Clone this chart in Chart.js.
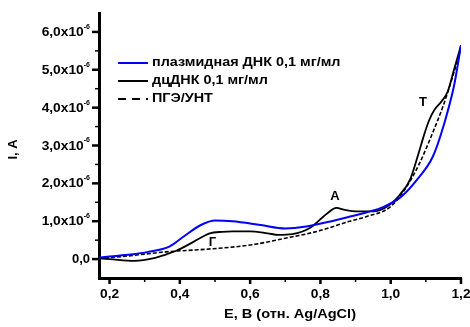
<!DOCTYPE html>
<html><head><meta charset="utf-8">
<script src="https://cdn.jsdelivr.net/npm/chart.js@4/dist/chart.umd.min.js"></script>
<style>html,body{margin:0;padding:0;background:#fff}</style>
</head><body>
<canvas id="c" width="470" height="327"></canvas>
<script>
// Values: current in units of 1e-6 A, potential in V
const seriesLabels = ['плазмидная ДНК 0,1 мг/мл', 'дцДНК 0,1 мг/мл', 'ПГЭ/УНТ'];
const plasmidE = [0.17, 0.2, 0.26, 0.31, 0.37, 0.41, 0.46, 0.5, 0.55, 0.63, 0.7, 0.76, 0.84, 0.88, 0.93, 0.98, 1.03, 1.075, 1.12, 1.15, 1.18, 1.2];
const plasmidI = [0.04, 0.07, 0.12, 0.19, 0.33, 0.59, 0.90, 1.02, 1.00, 0.90, 0.81, 0.86, 1.02, 1.11, 1.23, 1.38, 1.65, 2.10, 2.71, 3.51, 4.57, 5.64];
const dsE = [0.17, 0.2, 0.27, 0.33, 0.36, 0.39, 0.44, 0.485, 0.52, 0.55, 0.6, 0.65, 0.68, 0.72, 0.77, 0.82, 0.845, 0.87, 0.9, 0.95, 0.99, 1.026, 1.055, 1.077, 1.097, 1.11, 1.125, 1.145, 1.162, 1.18, 1.2];
const dsI = [0.02, 0.0, -0.05, 0.03, 0.12, 0.22, 0.46, 0.68, 0.72, 0.73, 0.73, 0.68, 0.64, 0.66, 0.82, 1.21, 1.35, 1.30, 1.26, 1.26, 1.39, 1.70, 2.10, 2.72, 3.34, 3.68, 3.95, 4.17, 4.42, 5.00, 5.65];
const bareE = [0.17, 0.25, 0.36, 0.49, 0.6, 0.7, 0.79, 0.88, 0.93, 1.0, 1.046, 1.083, 1.12, 1.149, 1.177, 1.2];
const bareI = [0.02, 0.08, 0.19, 0.27, 0.37, 0.55, 0.73, 0.99, 1.12, 1.39, 1.92, 2.55, 3.35, 4.04, 4.84, 5.55];
const xMajorTicks = [0.2, 0.4, 0.6, 0.8, 1.0, 1.2];
const xMinorTicks = [0.3, 0.5, 0.7, 0.9, 1.1];
const yMajorTicks = [0, 1, 2, 3, 4, 5, 6];
const yMinorTicks = [0.5, 1.5, 2.5, 3.5, 4.5, 5.5];
const yExponent = '-6';
const xTitle = 'E, B (отн. Ag/AgCl)';
const yTitle = 'I, A';
const peakLabels = ['A', 'T', 'Г'];
const peakE = [0.841, 1.092, 0.493];
const peakI = [1.66, 4.15, 0.43];

const pts = (xs, ys) => xs.map((x, i) => ({x, y: ys[i]}));
const FONT = '"Liberation Sans", Arial, sans-serif';

function stretchedText(ctx, text, x, y, sx, align) {
  const w = ctx.measureText(text).width * sx;
  let left = x;
  if (align === 'center') left = x - w / 2;
  else if (align === 'right') left = x - w;
  ctx.save();
  ctx.translate(left, y);
  ctx.scale(sx, 1);
  ctx.textAlign = 'left';
  ctx.fillText(text, 0, 0);
  ctx.restore();
}

const drawPlugin = {
  id: 'custom',
  afterDraw(chart) {
    const ctx = chart.ctx, xs = chart.scales.x, ys = chart.scales.y;
    const ca = chart.chartArea;
    const ax = ca.left, ay = ca.bottom;
    ctx.save();
    ctx.strokeStyle = '#000'; ctx.fillStyle = '#000';
    // x ticks
    xMajorTicks.forEach(v => { const p = xs.getPixelForValue(v); ctx.lineWidth = 2.5; ctx.beginPath(); ctx.moveTo(p, ay); ctx.lineTo(p, ay + 6); ctx.stroke(); });
    xMinorTicks.forEach(v => { const p = xs.getPixelForValue(v); ctx.lineWidth = 1.5; ctx.beginPath(); ctx.moveTo(p, ay); ctx.lineTo(p, ay + 4); ctx.stroke(); });
    // y ticks
    yMajorTicks.forEach(v => { const p = ys.getPixelForValue(v); ctx.lineWidth = 2.5; ctx.beginPath(); ctx.moveTo(ax, p); ctx.lineTo(ax - 7, p); ctx.stroke(); });
    yMinorTicks.forEach(v => { const p = ys.getPixelForValue(v); ctx.lineWidth = 1.5; ctx.beginPath(); ctx.moveTo(ax, p); ctx.lineTo(ax - 4, p); ctx.stroke(); });
    // y labels with superscript
    ctx.textBaseline = 'middle';
    yMajorTicks.forEach(v => {
      const p = ys.getPixelForValue(v);
      const main = v.toFixed(1).replace('.', ',') + (v === 0 ? '' : 'x10');
      const right = ax - 9;
      if (v === 0) {
        ctx.font = 'bold 13px ' + FONT; ctx.textAlign = 'right';
        ctx.fillText(main, right, p + 0.5);
      } else {
        ctx.font = 'bold 7px ' + FONT; ctx.textAlign = 'right';
        const sw = ctx.measureText(yExponent).width;
        ctx.fillText(yExponent, right, p - 5);
        ctx.font = 'bold 13px ' + FONT;
        stretchedText(ctx, main, right - sw, p + 0.5, 1.06, 'right');
      }
    });
    // x labels
    ctx.font = 'bold 13px ' + FONT; ctx.textBaseline = 'middle';
    xMajorTicks.forEach(v => {
      stretchedText(ctx, v.toFixed(1).replace('.', ','), xs.getPixelForValue(v), ay + 16, 1.06, 'center');
    });
    // axis titles
    ctx.font = 'bold 13px ' + FONT;
    stretchedText(ctx, xTitle, (ca.left + ca.right) / 2 + 10, ay + 36, 1.12, 'center');
    ctx.save();
    ctx.translate(13.5, (ca.top + ca.bottom) / 2 + 4);
    ctx.rotate(-Math.PI / 2);
    ctx.textAlign = 'center';
    ctx.fillText(yTitle, 0, 0);
    ctx.restore();
    // peak labels
    ctx.font = 'bold 13px ' + FONT; ctx.textAlign = 'center'; ctx.textBaseline = 'middle';
    peakLabels.forEach((t, i) => ctx.fillText(t, xs.getPixelForValue(peakE[i]), ys.getPixelForValue(peakI[i])));
    // legend
    const lx = 118, ly = 63, step = 18;
    chart.data.datasets.forEach((ds, i) => {
      const y = ly + i * step;
      ctx.strokeStyle = ds.borderColor; ctx.lineWidth = 2;
      ctx.setLineDash(ds.borderDash && ds.borderDash.length ? [8, 6] : []);
      ctx.beginPath(); ctx.moveTo(lx, y); ctx.lineTo(lx + 30, y); ctx.stroke();
      ctx.setLineDash([]);
      ctx.font = 'bold 12px ' + FONT; ctx.fillStyle = '#000'; ctx.textBaseline = 'middle';
      stretchedText(ctx, ds.label, lx + 34, y, 1.2, 'left');
    });
    ctx.restore();
  }
};

new Chart(document.getElementById('c'), {
  type: 'line',
  data: {
    datasets: [
      {label: seriesLabels[0], data: pts(plasmidE, plasmidI), borderColor: '#0000ff', borderWidth: 2, order: 0},
      {label: seriesLabels[1], data: pts(dsE, dsI), borderColor: '#000000', borderWidth: 1.8, order: 1},
      {label: seriesLabels[2], data: pts(bareE, bareI), borderColor: '#000000', borderWidth: 1.6, borderDash: [4, 2], order: 2}
    ]
  },
  options: {
    responsive: false, animation: false, devicePixelRatio: 1,
    layout: {padding: {top: 13, right: 9, left: 0, bottom: 0}},
    elements: {point: {radius: 0}, line: {cubicInterpolationMode: 'monotone', fill: false}},
    plugins: {legend: {display: false}, tooltip: {enabled: false}},
    scales: {
      x: {
        type: 'linear', min: 0.17, max: 1.2,
        afterBuildTicks: s => { s.ticks = xMajorTicks.map(v => ({value: v})); },
        afterFit: s => { s.height = 49; s.paddingLeft = 0; s.paddingRight = 0; },
        grid: {display: false, drawTicks: false},
        border: {display: true, color: '#000', width: 3},
        ticks: {display: false},
        title: {display: false}
      },
      y: {
        type: 'linear', min: -0.5, max: 6.5,
        afterBuildTicks: s => { s.ticks = yMajorTicks.map(v => ({value: v})); },
        afterFit: s => { s.width = 99; s.paddingTop = 0; s.paddingBottom = 0; },
        grid: {display: false, drawTicks: false},
        border: {display: true, color: '#000', width: 3},
        ticks: {display: false},
        title: {display: false}
      }
    }
  },
  plugins: [drawPlugin]
});
</script>
</body></html>
